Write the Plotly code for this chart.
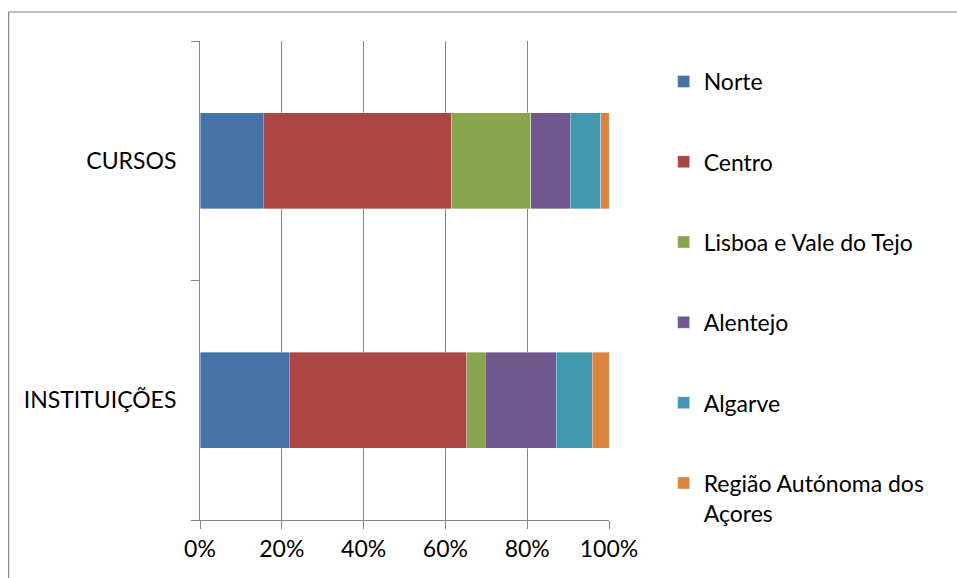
import plotly.graph_objects as go

categories = ["INSTITUIÇÕES", "CURSOS"]
series_names = ["Norte", "Centro", "Lisboa e Vale do Tejo", "Alentejo", "Algarve",
                "Região Autónoma dos<br>Açores"]
norte = [21.8, 15.5]
centro = [43.4, 46.1]
lisboa = [4.6, 19.3]
alentejo = [17.3, 9.6]
algarve = [8.8, 7.5]
acores = [4.1, 2.0]
x_ticks = [0, 20, 40, 60, 80, 100]
x_tick_labels = ["0%", "20%", "40%", "60%", "80%", "100%"]

colors = ["#4572A7", "#AA4643", "#89A54E", "#71588F", "#4198AF", "#DB843D"]
values = [norte, centro, lisboa, alentejo, algarve, acores]

W, H = 957, 578
L, R = 200, 609.3
T, B = 41, 520
FONT = "Lato"
FS = 23

fig = go.Figure()
for i, (name, vals, col) in enumerate(zip(series_names, values, colors)):
    fig.add_trace(go.Bar(
        y=categories, x=vals, name=name, orientation="h",
        marker=dict(color=col, line=dict(color="rgba(255,255,255,0.6)", width=0.6)),
        legendgroup=f"g{i}",
    ))

def px_to_px(p):
    return (p - L) / (R - L)

def py_to_py(p):
    return 1 - (p - T) / (B - T)

fig.update_layout(
    width=W, height=H,
    margin=dict(l=L, r=W - R, t=T, b=H - B, pad=0, autoexpand=False),
    barmode="stack", bargap=0.6,
    plot_bgcolor="white", paper_bgcolor="white",
    font=dict(family=FONT, size=FS, color="black"),
    showlegend=True,
    legend=dict(
        x=px_to_px(664), y=py_to_py(60), xanchor="left", yanchor="top",
        traceorder="grouped", tracegroupgap=47.4,
        font=dict(family=FONT, size=FS, color="black"),
        valign="top", bgcolor="rgba(0,0,0,0)",
        maxheight=560,
    ),
    xaxis=dict(
        range=[0, 100], tickvals=x_ticks, ticktext=x_tick_labels,
        showgrid=True, gridcolor="#868686", gridwidth=1,
        showline=True, linecolor="#868686", linewidth=1,
        ticks="outside", ticklen=8, tickcolor="#868686",
        zeroline=False, fixedrange=True, automargin=False,
        tickfont=dict(family=FONT, size=FS, color="black"),
    ),
    yaxis=dict(
        categoryorder="array", categoryarray=categories,
        tickson="boundaries", showgrid=False,
        showline=True, linecolor="#868686", linewidth=1,
        ticks="outside", ticklen=8, tickcolor="#868686",
        ticklabelstandoff=18, automargin=False,
        tickfont=dict(family=FONT, size=FS, color="black"),
    ),
    shapes=[dict(
        type="rect", xref="paper", yref="paper",
        x0=px_to_px(8.5), x1=px_to_px(990), y0=py_to_py(12), y1=py_to_py(620),
        line=dict(color="#868686", width=1.2), fillcolor="rgba(0,0,0,0)",
        layer="below",
    )],
)

fig.write_html(
    "out.html",
    config={"displayModeBar": False},
    post_script="document.body.style.margin='0';document.body.style.overflow='hidden';",
)
